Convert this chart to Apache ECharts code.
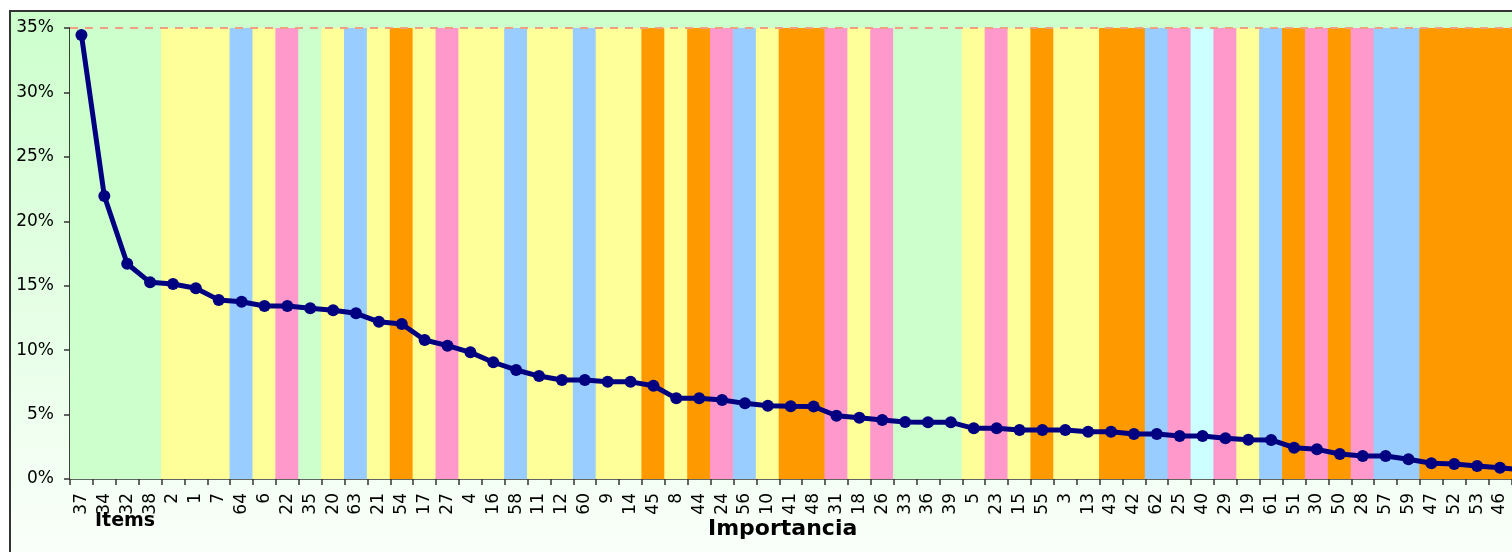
<!DOCTYPE html>
<html>
<head>
<meta charset="utf-8">
<title>Importancia de items</title>
<script src="https://cdn.jsdelivr.net/npm/echarts@6/dist/echarts.min.js"></script>
<style>
  html, body { margin: 0; padding: 0; background: #ffffff; overflow: hidden; }
  #chart { width: 1536px; height: 552px; }
</style>
</head>
<body>
<div id="chart"></div>
<script>
// Items sorted by importance (descending)
const items = ['37','34','32','38','2','1','7','64','6','22','35','20','63','21','54','17',
  '27','4','16','58','11','12','60','9','14','45','8','44','24','56','10','41','48','31',
  '18','26','33','36','39','5','23','15','55','3','13','43','42','62','25','40','29','19',
  '61','51','30','50','28','57','59','47','52','53','46','49'];

// Importance of each item, in percent
const importance = [34.46, 21.96, 16.70, 15.26, 15.13, 14.80, 13.90, 13.76, 13.43, 13.42,
  13.25, 13.10, 12.86, 12.20, 12.03, 10.79, 10.35, 9.83, 9.06, 8.46, 7.99, 7.68, 7.68,
  7.55, 7.54, 7.24, 6.26, 6.26, 6.13, 5.87, 5.69, 5.65, 5.63, 4.91, 4.76, 4.58, 4.42,
  4.41, 4.40, 3.93, 3.93, 3.80, 3.80, 3.80, 3.67, 3.67, 3.50, 3.49, 3.34, 3.34, 3.16,
  3.04, 3.03, 2.43, 2.30, 1.94, 1.78, 1.78, 1.53, 1.22, 1.16, 1.01, 0.88, 0.70];

// Group of each item (drawn as a coloured column behind it)
const groups = ['G','G','G','G','Y','Y','Y','B','Y','P','G','Y','B','Y','O','Y',
  'P','Y','Y','B','Y','Y','B','Y','Y','O','Y','O','P','B','Y','O','O','P',
  'Y','P','G','G','G','Y','P','Y','O','Y','Y','O','O','B','P','C','P','Y',
  'B','O','P','O','P','B','B','O','O','O','O','O'];

const groupColors = { G: '#CCFFCC', Y: '#FFFF99', B: '#99CCFF', P: '#FF99CC', O: '#FF9900', C: '#CCFFFF' };

// Y axis range (percent)
const yMin = 0, yMax = 35, yStep = 5;

const chart = echarts.init(document.getElementById('chart'), null, { renderer: 'canvas' });

// Full-height columns, a touch wider than one category so neighbours overlap without seams
const bandData = items.map((_, i) => ({
  value: yMax,
  itemStyle: { color: groupColors[groups[i]] }
}));

const fontFamily = '"DejaVu Sans", "Open Sans", sans-serif';

chart.setOption({
  animation: false,
  graphic: [
    {
      type: 'rect',
      z: -10,
      shape: { x: 10, y: 11, width: 1600, height: 600 },
      style: {
        fill: new echarts.graphic.LinearGradient(0, 0, 0, 1, [
          { offset: 0, color: '#CCFFCC' },
          { offset: 1, color: '#FFFFFF' }
        ]),
        stroke: '#333333',
        lineWidth: 2
      }
    },
    {
      type: 'text', left: 95, top: 512,
      style: { text: 'Items', font: '900 19px ' + fontFamily, fill: '#000000' }
    },
    {
      type: 'text', left: 708, top: 518,
      style: { text: 'Importancia', font: '900 22px ' + fontFamily, fill: '#000000' }
    }
  ],
  grid: { left: 70, top: 28, width: 64 * 22.88, height: 451, containLabel: false },
  xAxis: {
    type: 'category',
    data: items,
    boundaryGap: true,
    axisLine: { show: true, lineStyle: { color: '#333333', width: 1.5 } },
    axisTick: { show: true, alignWithLabel: false, length: 6, lineStyle: { color: '#333333', width: 1.5 } },
    axisLabel: {
      interval: 0, rotate: 90, margin: 14,
      fontFamily: fontFamily, fontSize: 17, color: '#000000'
    },
    splitLine: { show: false }
  },
  yAxis: {
    type: 'value',
    min: yMin, max: yMax, interval: yStep,
    axisLine: { show: true, lineStyle: { color: '#000000', width: 1.5 } },
    axisTick: { show: true, length: 6, lineStyle: { color: '#333333', width: 1.5 } },
    axisLabel: {
      formatter: '{value}%', margin: 16,
      fontFamily: fontFamily, fontSize: 17, color: '#000000'
    },
    splitLine: { show: false }
  },
  series: [
    {
      name: 'groups',
      type: 'bar',
      data: bandData,
      barWidth: 24,
      barGap: '-100%',
      silent: true,
      z: 1
    },
    {
      name: 'Importancia',
      type: 'line',
      data: importance,
      z: 5,
      symbol: 'circle',
      symbolSize: 12,
      lineStyle: { color: '#000080', width: 5 },
      itemStyle: { color: '#000080' },
      markLine: {
        silent: true,
        symbol: 'none',
        label: { show: false },
        lineStyle: { color: '#F0A080', type: [8, 7], width: 2 },
        data: [{ yAxis: yMax }]
      }
    }
  ]
});
</script>
</body>
</html>
